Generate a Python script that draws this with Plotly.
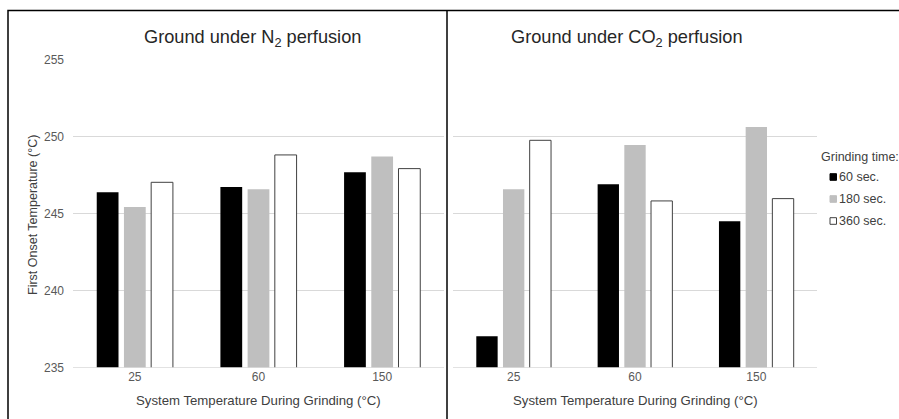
import plotly.graph_objects as go

W, H = 899, 419

categories = ["25", "60", "150"]
series_names = ["60 sec.", "180 sec.", "360 sec."]
n2_60 = [246.4, 246.75, 247.7]
n2_180 = [245.45, 246.6, 248.72]
n2_360 = [247.05, 248.83, 247.94]
co2_60 = [237.05, 246.92, 244.52]
co2_180 = [246.6, 249.48, 250.65]
co2_360 = [249.78, 245.84, 245.99]
y_ticks = [235, 240, 245, 250, 255]

fills = ["#000000", "#bfbfbf", "#ffffff"]
outlines = ["#000000", "#bfbfbf", "#404040"]
outline_w = [0, 0, 1]

def px(x):
    return x / W

def py(y):
    return 1 - y / H

FONT = "Liberation Sans, Arial, sans-serif"

fig = go.Figure()
for i, vals in enumerate([n2_60, n2_180, n2_360]):
    fig.add_trace(go.Bar(x=categories, y=vals, name=series_names[i], xaxis="x", yaxis="y",
                         marker=dict(color=fills[i], line=dict(color=outlines[i], width=outline_w[i])),
                         showlegend=False))
for i, vals in enumerate([co2_60, co2_180, co2_360]):
    fig.add_trace(go.Bar(x=categories, y=vals, name=series_names[i], xaxis="x2", yaxis="y2",
                         marker=dict(color=fills[i], line=dict(color=outlines[i], width=outline_w[i])),
                         showlegend=False))

axis_common = dict(type="category", showline=False, zeroline=False, ticks="", automargin=False,
                   tickfont=dict(family=FONT, size=12, color="#595959"))
yax = dict(range=[235, 255], tickvals=y_ticks, showgrid=True, gridcolor="#d9d9d9", gridwidth=1,
           zeroline=False, ticks="", automargin=False, domain=[py(367.7), py(60)],
           tickfont=dict(family=FONT, size=12, color="#595959"))

fig.update_layout(
    template="none",
    width=W, height=H,
    margin=dict(l=0, r=0, t=0, b=0, pad=0),
    paper_bgcolor="white", plot_bgcolor="white",
    barmode="group", bargap=0.34, bargroupgap=0.2,
    showlegend=False,
    xaxis=dict(domain=[px(73), px(444)], anchor="y", showgrid=False, **axis_common),
    yaxis=dict(anchor="x", ticklabelstandoff=8, **yax),
    xaxis2=dict(domain=[px(453), px(817)], anchor="y2", showgrid=False, **axis_common),
    yaxis2=dict(anchor="x2", showticklabels=False, **yax),
)

shapes = []
for xr, yr in [("x", "y"), ("x2", "y2")]:
    shapes.append(dict(type="line", xref=xr + " domain", yref=yr, x0=0, x1=1, y0=235, y1=235,
                       line=dict(color="#d9d9d9", width=1.5)))
shapes.append(dict(type="rect", xref="paper", yref="paper", x0=px(8), x1=px(920), y0=py(440), y1=py(10.5),
                   line=dict(color="#000000", width=1.5), fillcolor="rgba(0,0,0,0)"))
shapes.append(dict(type="line", xref="paper", yref="paper", x0=px(447), x1=px(447), y0=py(440), y1=py(10.5),
                   line=dict(color="#000000", width=1.5)))

annotations = []
title_font = dict(family=FONT, size=18.2, color="#262626")
annotations.append(dict(text="Ground under N<sub>2</sub> perfusion", x=px(252.5), y=py(38), xref="paper", yref="paper",
                        showarrow=False, xanchor="center", yanchor="middle", font=title_font))
annotations.append(dict(text="Ground under CO<sub>2</sub> perfusion", x=px(627), y=py(38), xref="paper", yref="paper",
                        showarrow=False, xanchor="center", yanchor="middle", font=title_font))
axt_font = dict(family=FONT, size=13.2, color="#404040")
annotations.append(dict(text="System Temperature During Grinding (°C)", x=px(258.7), y=py(400), xref="paper", yref="paper",
                        showarrow=False, xanchor="center", yanchor="middle", font=axt_font))
annotations.append(dict(text="System Temperature During Grinding (°C)", x=px(635), y=py(400), xref="paper", yref="paper",
                        showarrow=False, xanchor="center", yanchor="middle", font=axt_font))
annotations.append(dict(text="First Onset Temperature (°C)", x=px(33), y=py(215), xref="paper", yref="paper",
                        showarrow=False, xanchor="center", yanchor="middle", textangle=-90,
                        font=dict(family=FONT, size=12.5, color="#404040")))
annotations.append(dict(text="Grinding time:", x=px(819), y=py(157), xref="paper", yref="paper",
                        showarrow=False, xanchor="left", yanchor="middle",
                        font=dict(family=FONT, size=12.5, color="#404040")))
leg_font = dict(family=FONT, size=12.5, color="#404040")
leg_y = [177, 199, 221]
for i, name in enumerate(series_names):
    annotations.append(dict(text=name, x=px(837), y=py(leg_y[i]), xref="paper", yref="paper",
                            showarrow=False, xanchor="left", yanchor="middle", font=leg_font))
    shapes.append(dict(type="rect", xref="paper", yref="paper",
                       x0=px(830), x1=px(836.5), y0=py(leg_y[i] + 3.3), y1=py(leg_y[i] - 3.3),
                       fillcolor=fills[i],
                       line=dict(color=("#404040" if i == 2 else fills[i]), width=1)))

fig.update_layout(shapes=shapes, annotations=annotations)
fig.write_html("out.html",
               config={"displayModeBar": False},
               post_script="document.body.style.margin='0';document.body.style.overflow='hidden';")
